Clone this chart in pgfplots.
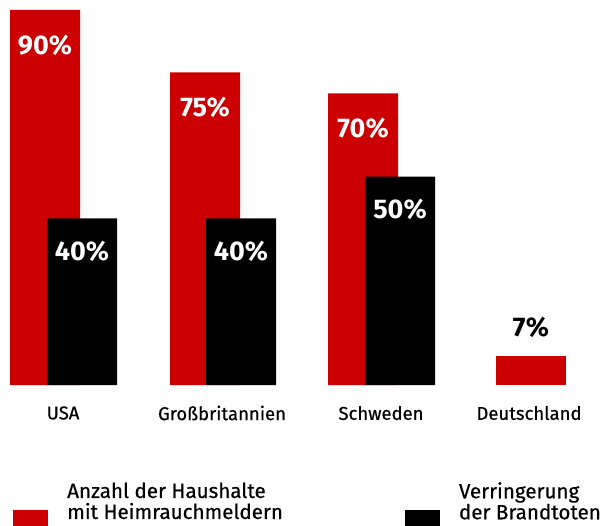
\documentclass[border=0pt]{standalone}
\usepackage{fontspec}
\setmainfont{Fira Sans}
\newfontfamily\medfont{Fira Sans}[FakeBold=0.5]
\usepackage{pgfplots}
\pgfplotsset{compat=1.18}
\definecolor{rot}{RGB}{204,0,0}
\begin{document}
\begin{tikzpicture}
\begin{axis}[name=ax, scale only axis, width=609pt, height=525pt,
  xmin=0, xmax=609, ymin=-33.6, ymax=92.4,
  /pgf/number format/assume math mode=true,
  axis line style={draw=none},
  ytick=\empty,
  xtick={63,222,381,529},
  xticklabels={USA,Großbritannien,Schweden,Deutschland},
  major tick length=0pt,
  xticklabel style={font=\medfont\fontsize{18.5}{20}\selectfont, anchor=center, yshift=112pt},
  ybar, bar shift=0pt, bar width=70,
  clip=false,
  legend columns=2,
  legend style={at={(axis cs:10,-22.8)}, anchor=north west, draw=none, fill=none,
    font=\medfont\fontsize{20.6}{21}\selectfont,
    nodes={align=left, inner sep=0pt},
    /tikz/every even column/.append style={column sep=122pt},
    /tikz/every odd column/.append style={column sep=19pt}},
  legend image code/.code={\fill[#1] (0pt,-9pt) rectangle (35pt,-44pt);},
  nodes near coords style={font=\fontsize{27}{28}\bfseries\selectfont},
]
\addplot[fill=rot, draw=none, nodes near coords={\pgfmathprintnumber{\pgfplotspointmeta}\%},
  every node near coord/.append style={white, anchor=center, yshift=-35pt}]
  coordinates {(45,90) (205,75) (363,70)};
\addlegendentry{Anzahl der Haushalte\\mit Heimrauchmeldern}
\addplot[fill=black, draw=none, nodes near coords={\pgfmathprintnumber{\pgfplotspointmeta}\%},
  every node near coord/.append style={white, anchor=center, yshift=-33pt}]
  coordinates {(82,40) (241,40) (400,50)};
\addlegendentry{Verringerung\\der Brandtoten}
\addplot[fill=rot, draw=none, forget plot, nodes near coords={\pgfmathprintnumber{\pgfplotspointmeta}\%},
  every node near coord/.append style={black, anchor=center, yshift=29pt}]
  coordinates {(531,7)};
\end{axis}
\pgfresetboundingbox
\useasboundingbox (ax.south west) rectangle (ax.north east);
\end{tikzpicture}
\end{document}
